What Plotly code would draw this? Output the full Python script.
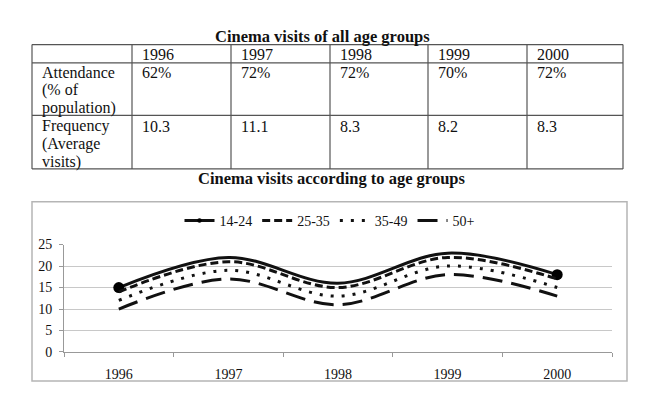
import plotly.graph_objects as go

years = ["1996", "1997", "1998", "1999", "2000"]
attendance = ["62%", "72%", "72%", "70%", "72%"]
frequency = ["10.3", "11.1", "8.3", "8.2", "8.3"]
row_labels = [["Attendance", "(% of", "population)"], ["Frequency", "(Average", "visits)"]]

groups = ["14-24", "25-35", "35-49", "50+"]
v_14_24 = [15, 22, 16, 23, 18]
v_25_35 = [14, 21, 15, 22, 17]
v_35_49 = [12, 19, 13, 20, 15]
v_50p = [10, 17, 11, 18, 13]
series = [v_14_24, v_25_35, v_35_49, v_50p]
dashes = ["solid", "8px,4px", "3px,8px", "20px,9px"]

W, H = 667, 413
def px(x): return x / W
def py(y): return 1 - y / H

SERIF = "Liberation Serif"
INK = "#111111"

fig = go.Figure()

# ---- table ----
col_x = [32, 132, 231, 330, 428, 527, 623]
row_y = [39, 58, 112.5, 168]
tbl_line = dict(color="#555", width=1.2)
for x in col_x:
    fig.add_shape(type="line", xref="paper", yref="paper", x0=px(x), x1=px(x),
                  y0=py(row_y[0]), y1=py(row_y[-1]), line=tbl_line)
for y in row_y:
    fig.add_shape(type="line", xref="paper", yref="paper", x0=px(col_x[0]), x1=px(col_x[-1]),
                  y0=py(y), y1=py(y), line=tbl_line)

def cell_text(txt, col, y):
    fig.add_annotation(text=txt, xref="paper", yref="paper", x=px(col_x[col] + 8), y=py(y),
                       xanchor="left", yanchor="middle", showarrow=False,
                       font=dict(family=SERIF, size=16, color=INK))

LS = 18.5
for i, yr in enumerate(years):
    cell_text(yr, i + 1, 49)
for r, (vals, lab) in enumerate(zip([attendance, frequency], row_labels)):
    top = [68, 123.5][r]
    for k, line in enumerate(lab):
        cell_text(line, 0, top + k * LS)
    for i, v in enumerate(vals):
        cell_text(v, i + 1, top)

# ---- line chart ----
for name, vals, d in zip(groups, series, dashes):
    is_first = name == "14-24"
    fig.add_trace(go.Scatter(
        x=years, y=vals, name=name, mode="lines+markers" if is_first else "lines",
        line=dict(color=INK, width=3, dash=d, shape="spline"),
        marker=dict(size=[11, 0, 0, 0, 11] if is_first else 0, color="#000",
                    line=dict(width=0), opacity=1),
    ))

fig.add_shape(type="rect", xref="paper", yref="paper",
              x0=px(32), x1=px(627), y0=py(388), y1=py(202),
              line=dict(color="#b5b5b5", width=1.5))

fig.add_annotation(text="<b>Cinema visits of all age groups</b>", xref="paper", yref="paper",
                   x=px(322), y=py(31), showarrow=False, yanchor="middle",
                   font=dict(family=SERIF, size=16.5, color=INK))
fig.add_annotation(text="<b>Cinema visits according to age groups</b>", xref="paper", yref="paper",
                   x=px(331), y=py(178), showarrow=False, yanchor="middle",
                   font=dict(family=SERIF, size=16.5, color=INK))

fig.update_layout(
    width=W, height=H, margin=dict(l=0, r=0, t=0, b=0),
    paper_bgcolor="white", plot_bgcolor="white",
    showlegend=True,
    legend=dict(orientation="h", x=px(330), xanchor="center", y=py(222), yanchor="middle",
                font=dict(family=SERIF, size=14, color=INK), bgcolor="rgba(0,0,0,0)",
                itemwidth=30, tracegroupgap=0),
    xaxis=dict(domain=[px(64), px(612)], type="category", range=[-0.5, 4.5],
               tickson="boundaries", ticks="outside", ticklen=4, tickcolor="#999",
               showline=True, linecolor="#999", showgrid=False, ticklabelstandoff=9,
               tickfont=dict(family=SERIF, size=14, color=INK)),
    yaxis=dict(domain=[py(358), py(246.5)], range=[0, 25], dtick=5,
               ticks="outside", ticklen=4, tickcolor="#999",
               showline=True, linecolor="#999", gridcolor="#c8c8c8", zeroline=False,
               ticklabelstandoff=4,
               tickfont=dict(family=SERIF, size=14, color=INK)),
)

fig.write_html("out.html")
